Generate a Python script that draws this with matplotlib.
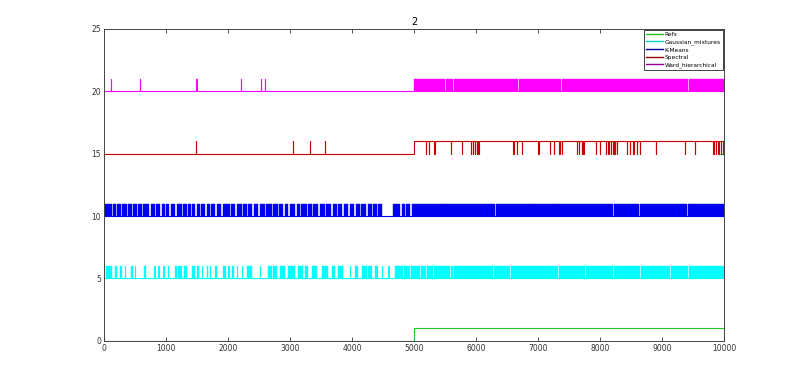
import matplotlib
matplotlib.use('Agg')
import matplotlib.pyplot as plt
from matplotlib.lines import Line2D

# ---------------- data ----------------
N = 10000
title = "2"
labels = ['Refs', 'Gaussian_mixtures', 'K-Means', 'Spectral', 'Ward_hierarchical']
offsets = [0, 5, 10, 15, 20]
colors = ['#22c022', '#00ffff', '#0000ee', '#cc0000', '#ff00ff']
legend_colors = ['#22c022', '#00d8d8', '#000099', '#990000', '#990099']
xticks = list(range(0, 10001, 1000))
yticks = [0, 5, 10, 15, 20, 25]

# Refs: constant stretches at level 1
refs_high = [(5000, 10000)]

# Gaussian mixtures: isolated spikes, bursts of fast switching, dense span with gaps
gm_spikes = [339, 500, 812, 876, 957, 1575, 1710, 2005, 2140, 2220, 2516, 3968, 4478, 4586]
gm_bursts = [(32, 124), (177, 204), (258, 285), (435, 462), (650, 677), (1027, 1048),
             (1145, 1180), (1200, 1253), (1296, 1333), (1414, 1468), (1495, 1532),
             (1656, 1683), (1790, 1817), (1925, 1968), (2059, 2097), (2301, 2382),
             (2650, 2704), (2731, 2785), (2839, 2919), (2973, 3080), (3134, 3215),
             (3242, 3296), (3349, 3430), (3511, 3618), (3672, 3726), (3779, 3860),
             (4048, 4102), (4156, 4236), (4263, 4317), (4371, 4424), (4693, 4820),
             (4838, 4880), (4895, 4935)]
gm_dense = (4950, 10000)
gm_dense_gaps = [(5097, 12), (5194, 12), (5312, 12), (5581, 12), (5634, 12), (6280, 12),
                 (6548, 12), (7328, 12), (7758, 12), (8215, 12), (8645, 12), (9129, 12),
                 (9425, 12), (9478, 12)]

# K-Means: dense switching over the whole range with gaps (constant stretches)
km_dense = (0, 10000)
km_dense_gaps = [(124, 20), (188, 25), (274, 20), (366, 25), (446, 20), (527, 25),
                 (607, 20), (731, 30), (823, 20), (909, 25), (984, 20), (1048, 25),
                 (1145, 30), (1253, 20), (1333, 25), (1403, 20), (1468, 30), (1548, 20),
                 (1629, 25), (1710, 20), (1790, 25), (1887, 30), (2032, 20), (2113, 25),
                 (2220, 20), (2301, 25), (2392, 20), (2489, 30), (2597, 20), (2704, 25),
                 (2801, 20), (2892, 25), (2973, 20), (3080, 30), (3161, 20), (3269, 25),
                 (3349, 20), (3457, 25), (3564, 20), (3661, 30), (3752, 20), (3844, 25),
                 (3941, 20), (4037, 25), (4129, 20), (4220, 30), (4317, 20), (4398, 25),
                 (4489, 177), (4774, 25), (4854, 25), (4935, 25),
                 (5527, 12), (6306, 12), (6914, 12), (7301, 12), (8215, 12), (8634, 12),
                 (9408, 12), (9432, 10)]

# Spectral: spikes in the first half, level 1 with short drops in the second half
sp_spikes = [1478, 3048, 3323, 3565]
sp_high = (5000, 10000)
sp_drops = [5188, 5242, 5328, 5591, 5769, 5919, 5946, 5984, 6011, 6038, 6602, 6656, 6737,
            7005, 7194, 7258, 7344, 7382, 7624, 7661, 7704, 7731, 7930, 8000, 8091, 8134,
            8172, 8215, 8242, 8269, 8430, 8484, 8538, 8591, 8645, 8898, 9371, 9532, 9828,
            9871, 9908, 9946, 9989]

# Ward hierarchical: spikes in the first half, dense switching in the second half
wd_spikes = [108, 576, 1489, 2205, 2527, 2597]
wd_dense = (5000, 10000)
wd_dense_gaps = [(5500, 12), (5634, 12), (6682, 12), (7371, 12), (8430, 12), (9424, 12)]


# ---------------- helpers ----------------
def split_by_gaps(span, gaps):
    a, b = span
    out = []
    cur = a
    for g, w in sorted(gaps):
        if g > cur:
            out.append((cur, min(g, b)))
        cur = max(cur, g + w)
    if cur < b:
        out.append((cur, b))
    return out


def step_line(high):
    xs, ys = [0], [0]
    for a, b in sorted(high):
        xs += [a, a, b, b]
        ys += [0, 1, 1, 0]
    xs.append(N)
    ys.append(ys[-1])
    return xs, ys


def spikes_to_high(spikes, w=6):
    return [(s, s + w) for s in spikes]


fig = plt.figure(figsize=(8.0, 3.83), dpi=100)
ax = fig.add_axes([0.13, 0.11, 0.775, 0.815])
lw = 0.8

series = [
    dict(high=refs_high, mixed=[]),
    dict(high=spikes_to_high(gm_spikes), mixed=gm_bursts + split_by_gaps(gm_dense, gm_dense_gaps)),
    dict(high=[], mixed=split_by_gaps(km_dense, km_dense_gaps)),
    dict(high=spikes_to_high(sp_spikes) + split_by_gaps(sp_high, [(d, 6) for d in sp_drops]), mixed=[]),
    dict(high=spikes_to_high(wd_spikes), mixed=split_by_gaps(wd_dense, wd_dense_gaps)),
]

for s, off, col in zip(series, offsets, colors):
    xs, ys = step_line(s['high'])
    ax.plot(xs, [off + v for v in ys], color=col, lw=lw, solid_joinstyle='miter')
    for a, b in s['mixed']:
        ax.fill_between([a, b], off, off + 1, color=col, lw=0.3, edgecolor=col)

ax.set_xlim(0, N)
ax.set_ylim(0, 25)
ax.set_xticks(xticks)
ax.set_yticks(yticks)
ax.tick_params(direction='in', top=True, right=True, length=3, width=0.6,
               labelsize=5.5, colors='#333333', pad=2)
for sp in ax.spines.values():
    sp.set_color('#444444')
    sp.set_linewidth(0.7)
ax.set_title(title, fontsize=7, pad=3)

handles = [Line2D([0], [0], color=c, lw=1.0) for c in legend_colors]
leg = ax.legend(handles, labels, loc='upper right', fontsize=4.2, frameon=True,
                fancybox=False, edgecolor='#222222', framealpha=1, handlelength=2.9,
                labelspacing=0.4, borderpad=0.4, handletextpad=0.3, borderaxespad=0.15)
leg.get_frame().set_linewidth(0.6)

fig.savefig('out.png', dpi=100, facecolor='white')
